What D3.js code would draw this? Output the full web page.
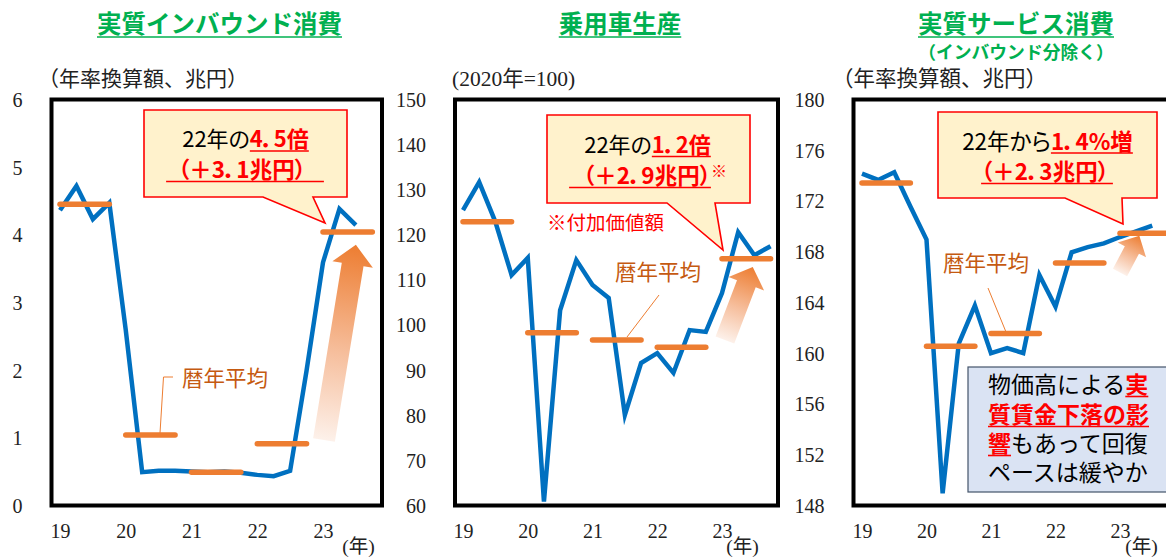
<!DOCTYPE html>
<html>
<head>
<meta charset="utf-8">
<script src="https://cdn.jsdelivr.net/npm/d3@7"></script>
<style>
  html, body { margin: 0; padding: 0; background: #fff; }
  svg { display: block; }
</style>
</head>
<body>
<svg id="chart" width="1166" height="560"></svg>
<script>
// ---- data -------------------------------------------------------------
// quarterly series start at 2019 Q1
const yearLabels = ["19", "20", "21", "22", "23"];

// real inbound consumption (annualised, trillion yen), 2019Q1–2023Q3
const inboundQuarterly = [4.37, 4.73, 4.24, 4.48, 2.60, 0.50, 0.52, 0.52,
                          0.51, 0.50, 0.51, 0.49, 0.46, 0.44, 0.52, 2.00,
                          3.60, 4.39, 4.15];
const inboundAnnual = [4.46, 1.05, 0.50, 0.92, 4.05];
const inboundTicks = [0, 1, 2, 3, 4, 5, 6];

// passenger car production (2020 = 100), 2019Q1–2023Q4
const carQuarterly = [125.6, 131.8, 123.0, 111.2, 115.0, 61.0, 103.4, 114.5,
                      109.0, 106.1, 80.2, 91.7, 93.9, 89.5, 99.0, 98.6,
                      107.2, 120.7, 115.6, 117.6];
const carAnnual = [123.0, 98.4, 96.8, 95.2, 114.8];
const carTicks = [60, 70, 80, 90, 100, 110, 120, 130, 140, 150];

// real services consumption excl. inbound (annualised, trillion yen), 2019Q1–2023Q3
const serviceQuarterly = [174.2, 173.7, 174.3, 171.6, 169.0, 149.0, 160.8, 163.8,
                          160.05, 160.45, 160.05, 166.2, 163.7, 168.0, 168.4, 168.7,
                          169.2, 169.65, 170.1];
const serviceAnnual = [173.45, 160.6, 161.6, 167.15, 169.5];
const serviceTicks = [148, 152, 156, 160, 164, 168, 172, 176, 180];

// ---- styles -----------------------------------------------------------
const SERIF = "'Liberation Serif', 'Noto Sans CJK JP', serif";
const GOTHIC = "'Noto Sans CJK JP', 'Noto Sans', sans-serif";
const BLUE = "#0070C0", ORANGE = "#ED7D31", RED = "#FF0000",
      GREEN = "#00B050", BROWN = "#C55A11", CREAM = "#FFF2CC";

const svg = d3.select("#chart");
const defs = svg.append("defs");
svg.append("rect").attr("width", 1166).attr("height", 560).attr("fill", "#fff");

// text line made of differently styled runs, with optional underlines
function richLine(parent, opt) {
  const t = parent.append("text")
    .attr("y", opt.y)
    .attr("font-family", GOTHIC)
    .attr("font-size", opt.size)
    .style("font-feature-settings", opt.palt ? "'palt'" : "normal");
  opt.parts.forEach(p => {
    const s = t.append("tspan").text(p.text)
      .attr("fill", p.fill || "#000")
      .attr("font-weight", p.bold ? 700 : 400);
    if (p.size) s.attr("font-size", p.size);
    if (p.dy) s.attr("dy", p.dy);
  });
  const node = t.node();
  const w = node.getComputedTextLength();
  t.attr("x", opt.anchor === "start" ? opt.x : opt.x - w / 2);
  let idx = 0;
  opt.parts.forEach(p => {
    const n = p.text.length;
    if (p.ul) {
      const s = node.getStartPositionOfChar(idx).x;
      const e = node.getEndPositionOfChar(idx + n - 1).x;
      parent.append("line")
        .attr("x1", s - (p.ul.l || 0)).attr("x2", e + (p.ul.r || 0))
        .attr("y1", opt.y + (p.ul.dy || 3.5)).attr("y2", opt.y + (p.ul.dy || 3.5))
        .attr("stroke", p.fill || "#000").attr("stroke-width", 1.6);
    }
    idx += n;
  });
  return t;
}

function calloutPath(b) {
  return `M${b.x0},${b.y0}H${b.x1}V${b.y1}H${b.tr}L${b.tip[0]},${b.tip[1]}L${b.tl},${b.y1}H${b.x0}Z`;
}

const panels = [
  {
    id: "inbound",
    title: "実質インバウンド消費", titleX: 219.5,
    unit: "（年率換算額、兆円）", unitX: 38, unitFont: GOTHIC, unitSize: 21,
    frameL: 51.5, frameR: 382,
    x0: 60, x16: 323,
    yDomain: [0, 6], ticks: inboundTicks,
    values: inboundQuarterly, annual: inboundAnnual,
    yearUnitX: 358.5,
    arrow: { from: [16.06, 0.975], to: [18.0, 3.86], shaft: 11, headW: 20.5, headL: 20 },
    callout: { x0: 144, y0: 110, x1: 347, y1: 197, tl: 263, tr: 313, tip: [325, 223] },
    lines: [
      { x: 245.5, y: 147, size: 22, palt: true,
        parts: [{ text: "22年の" }, { text: "4．5倍", fill: RED, bold: true, ul: { dy: 4 } }] },
      { x: 242, y: 178, size: 22.5, palt: true,
        parts: [{ text: "（＋3．1兆円）", fill: RED, bold: true, ul: { l: 12, r: 18, dy: 3.5 } }] }
    ],
    avgLabel: { x: 182, y: 386, leader: [[173, 377], [163.5, 377], [160, 433]] }
  },
  {
    id: "car",
    title: "乗用車生産", titleX: 620,
    unit: "(2020年=100)", unitX: 452, unitFont: SERIF, unitSize: 21.5,
    frameL: 455, frameR: 778,
    x0: 463, x16: 722,
    yDomain: [60, 150], ticks: carTicks,
    values: carQuarterly, annual: carAnnual,
    yearUnitX: 742.5,
    arrow: { from: [16.18, 96.8], to: [17.9, 113.0], shaft: 10, headW: 19, headL: 18 },
    callout: { x0: 547, y0: 115, x1: 750, y1: 203, tl: 667, tr: 715, tip: [723, 250] },
    lines: [
      { x: 647.5, y: 153, size: 22, palt: true,
        parts: [{ text: "22年の" }, { text: "1．2倍", fill: RED, bold: true, ul: { dy: 3.5 } }] },
      { x: 655, y: 184, size: 22.5, palt: true,
        parts: [{ text: "（＋2．9兆円）", fill: RED, bold: true, ul: { l: 14, r: 0, dy: 3.5 } },
                { text: "※", fill: RED, size: 16, dy: -7 }] }
    ],
    note: { text: "※付加価値額", x: 547, y: 230 },
    avgLabel: { x: 615, y: 280, leader: [[659, 295], [627, 337]] }
  },
  {
    id: "service",
    title: "実質サービス消費", titleX: 1016,
    subtitle: "（インバウンド分除く）",
    unit: "（年率換算額、兆円）", unitX: 832, unitFont: GOTHIC, unitSize: 21.5,
    frameL: 853.5, frameR: 1190,
    x0: 862, x16: 1120,
    yDomain: [148, 180], ticks: serviceTicks,
    values: serviceQuarterly, annual: serviceAnnual,
    yearUnitX: 1141.5,
    arrow: { from: [16.0, 166.4], to: [17.2, 169.3], shaft: 8, headW: 16, headL: 16 },
    callout: { x0: 938, y0: 112, x1: 1157, y1: 198, tl: 1065, tr: 1122, tip: [1123, 224] },
    lines: [
      { x: 1047.5, y: 150, size: 22.5, palt: true,
        parts: [{ text: "22年から" }, { text: "1．4%増", fill: RED, bold: true, ul: { dy: 3 } }] },
      { x: 1045, y: 180, size: 22.5, palt: true,
        parts: [{ text: "（＋2．3兆円）", fill: RED, bold: true, ul: { l: 0, r: 4, dy: 3.5 } }] }
    ],
    avgLabel: { x: 943, y: 271, leader: [[988, 288], [1006, 332]] },
    box: {
      x: 968, y: 367, w: 230, h: 125, textX: 988, size: 23,
      lines: [
        { y: 393, parts: [{ text: "物価高による" }, { text: "実", fill: RED, bold: true, ul: { dy: 3.5 } }] },
        { y: 423, parts: [{ text: "質賃金下落の影", fill: RED, bold: true, ul: { dy: 3.5 } }] },
        { y: 452, parts: [{ text: "響", fill: RED, bold: true, ul: { dy: 3.5 } }, { text: "もあって回復" }] },
        { y: 481, parts: [{ text: "ペースは緩やか" }] }
      ]
    }
  }
];

panels.forEach(cfg => {
  const g = svg.append("g").attr("class", "panel-" + cfg.id);
  const x = d3.scaleLinear().domain([0, 16]).range([cfg.x0, cfg.x16]);
  const y = d3.scaleLinear().domain(cfg.yDomain).range([506, 100]);

  // title
  const title = g.append("text")
    .attr("x", cfg.titleX).attr("y", 33)
    .attr("text-anchor", "middle")
    .attr("font-family", GOTHIC).attr("font-weight", 700)
    .attr("font-size", 24.5).attr("fill", GREEN)
    .text(cfg.title);
  const tw = title.node().getComputedTextLength();
  g.append("line")
    .attr("x1", cfg.titleX - tw / 2).attr("x2", cfg.titleX + tw / 2)
    .attr("y1", 37).attr("y2", 37)
    .attr("stroke", GREEN).attr("stroke-width", 1.6);
  if (cfg.subtitle) {
    g.append("text")
      .attr("x", 1016).attr("y", 58.5).attr("text-anchor", "middle")
      .attr("font-family", GOTHIC).attr("font-weight", 700)
      .attr("font-size", 17.8).attr("fill", GREEN)
      .text(cfg.subtitle);
  }

  // unit label
  g.append("text")
    .attr("x", cfg.unitX).attr("y", 86)
    .attr("font-family", cfg.unitFont).attr("font-size", cfg.unitSize)
    .attr("fill", "#222")
    .text(cfg.unit);

  // y axis
  const ya = g.append("g")
    .attr("transform", `translate(${cfg.frameL},0)`)
    .call(d3.axisLeft(y).tickValues(cfg.ticks).tickFormat(d3.format("d"))
      .tickSize(0).tickPadding(29));
  ya.select(".domain").remove();
  ya.selectAll("text")
    .attr("font-family", SERIF).attr("font-size", 20).attr("fill", "#222");

  // x axis
  const xa = g.append("g")
    .attr("transform", "translate(0,506)")
    .call(d3.axisBottom(x).tickValues([0, 4, 8, 12, 16])
      .tickFormat((d, i) => yearLabels[i]).tickSize(0).tickPadding(18));
  xa.select(".domain").remove();
  xa.selectAll("text")
    .attr("font-family", SERIF).attr("font-size", 20).attr("fill", "#222");
  g.append("text")
    .attr("x", cfg.yearUnitX).attr("y", 553).attr("text-anchor", "middle")
    .attr("font-family", SERIF).attr("font-size", 19.5).attr("fill", "#222")
    .text("(年)");

  // rising arrow with orange fade
  const a = cfg.arrow;
  const p0 = [x(a.from[0]), y(a.from[1])];
  const p1 = [x(a.to[0]), y(a.to[1])];
  const len = Math.hypot(p1[0] - p0[0], p1[1] - p0[1]);
  const u = [(p1[0] - p0[0]) / len, (p1[1] - p0[1]) / len];
  const n = [-u[1], u[0]];
  const hb = [p1[0] - u[0] * a.headL, p1[1] - u[1] * a.headL];
  const pt = (base, k) => [base[0] + n[0] * k, base[1] + n[1] * k];
  const arrowPts = [pt(p0, -a.shaft), pt(hb, -a.shaft), pt(hb, -a.headW), p1,
                    pt(hb, a.headW), pt(hb, a.shaft), pt(p0, a.shaft)];
  const gid = "fade-" + cfg.id;
  const grad = defs.append("linearGradient").attr("id", gid)
    .attr("gradientUnits", "userSpaceOnUse")
    .attr("x1", p0[0]).attr("y1", p0[1]).attr("x2", p1[0]).attr("y2", p1[1]);
  grad.append("stop").attr("offset", 0).attr("stop-color", "#FDF1EA");
  grad.append("stop").attr("offset", 0.45).attr("stop-color", "#F6BE9C");
  grad.append("stop").attr("offset", 1).attr("stop-color", "#ED7D31");
  g.append("path")
    .attr("d", "M" + arrowPts.map(p => p.join(",")).join("L") + "Z")
    .attr("fill", `url(#${gid})`);

  // quarterly line
  g.append("path")
    .datum(cfg.values)
    .attr("d", d3.line().x((d, i) => x(i)).y(d => y(d)))
    .attr("fill", "none").attr("stroke", BLUE)
    .attr("stroke-width", 4.5).attr("stroke-linejoin", "miter")
    .attr("stroke-miterlimit", 10);

  // calendar-year averages
  g.selectAll("line.avg")
    .data(cfg.annual)
    .join("line").attr("class", "avg")
    .attr("x1", (d, i) => x(i * 4)).attr("x2", (d, i) => x(i * 4 + 3))
    .attr("y1", d => y(d)).attr("y2", d => y(d))
    .attr("stroke", ORANGE).attr("stroke-width", 5.5)
    .attr("stroke-linecap", "round");

  // frame
  g.append("rect")
    .attr("x", cfg.frameL).attr("y", 99.5)
    .attr("width", cfg.frameR - cfg.frameL).attr("height", 406)
    .attr("fill", "none").attr("stroke", "#000").attr("stroke-width", 4);

  // average label with leader
  const al = cfg.avgLabel;
  g.append("path")
    .attr("d", d3.line()(al.leader))
    .attr("fill", "none").attr("stroke", ORANGE).attr("stroke-width", 1);
  g.append("text")
    .attr("x", al.x).attr("y", al.y)
    .attr("font-family", GOTHIC).attr("font-size", 21.5).attr("fill", BROWN)
    .text("暦年平均");

  // callout
  g.append("path")
    .attr("d", calloutPath(cfg.callout))
    .attr("fill", CREAM).attr("stroke", RED).attr("stroke-width", 1.6)
    .attr("stroke-linejoin", "miter");
  cfg.lines.forEach(l => richLine(g, l));

  if (cfg.note) {
    g.append("text")
      .attr("x", cfg.note.x).attr("y", cfg.note.y)
      .attr("font-family", GOTHIC).attr("font-size", 19.5).attr("fill", RED)
      .text(cfg.note.text);
  }

  if (cfg.box) {
    const b = cfg.box;
    g.append("rect")
      .attr("x", b.x).attr("y", b.y).attr("width", b.w).attr("height", b.h)
      .attr("fill", "#DAE3F3").attr("stroke", "#44546A").attr("stroke-width", 1.2);
    b.lines.forEach(l => richLine(g, { x: b.textX, y: l.y, size: b.size, anchor: "start", parts: l.parts }));
  }
});
</script>
</body>
</html>
